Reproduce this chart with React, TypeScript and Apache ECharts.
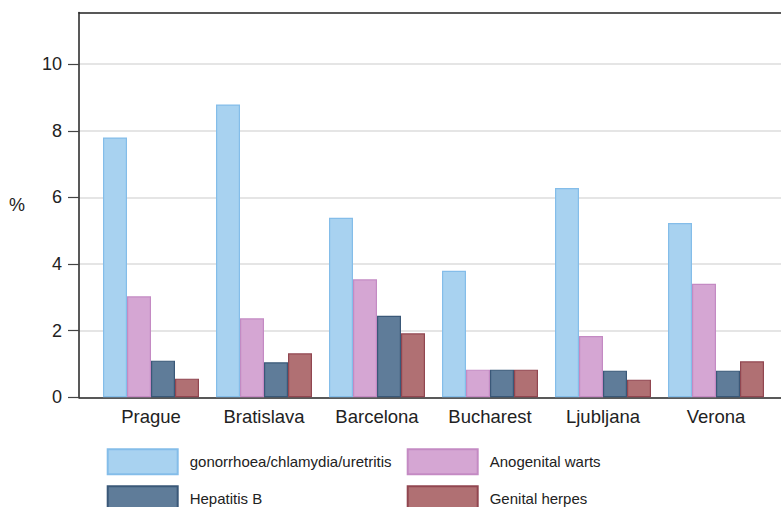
import React, { useEffect, useRef } from "react";
import * as echarts from "echarts";

const categories = ["Prague", "Bratislava", "Barcelona", "Bucharest", "Ljubljana", "Verona"];
const seriesNames = ["gonorrhoea/chlamydia/uretritis", "Anogenital warts", "Hepatitis B", "Genital herpes"];
const gonorrhoea = [7.8, 8.79, 5.39, 3.8, 6.28, 5.23];
const warts = [3.03, 2.37, 3.54, 0.83, 1.84, 3.41];
const hepatitisB = [1.1, 1.05, 2.45, 0.83, 0.8, 0.8];
const herpes = [0.56, 1.32, 1.92, 0.83, 0.53, 1.08];
const yTicks = [0, 2, 4, 6, 8, 10];

const FONT = "'Liberation Sans', Arial, sans-serif";
const fills = ["#a8d2f0", "#d5a6d3", "#5f7c99", "#b07073"];
const borders = ["#84bde9", "#c48ac3", "#3a5878", "#914650"];

export default function App() {
  const ref = useRef<HTMLDivElement>(null);
  useEffect(() => {
    if (!ref.current) return;
    const chart = echarts.init(ref.current, undefined, { renderer: "svg" });
    const values = [gonorrhoea, warts, hepatitisB, herpes];
    const top = 12.5;
    const bottom = 109.7;
    const legendBase = {
      orient: "vertical",
      top: 448.3,
      height: 100,
      padding: 0,
      itemWidth: 70,
      itemHeight: 25,
      itemGap: 10,
      icon: "rect",
      textStyle: { fontFamily: FONT, fontSize: 15, color: "#222", padding: [0, 0, 0, 7] },
    };
    const frameAxis = (position: string) => ({
      gridIndex: 0,
      type: "value",
      position,
      min: 0,
      max: 1,
      axisLine: { show: true, lineStyle: { color: "#2a2a2a", width: 1.5 } },
      axisTick: { show: false },
      axisLabel: { show: false },
      splitLine: { show: false },
    });
    chart.setOption({
      animation: false,
      backgroundColor: "#ffffff",
      textStyle: { fontFamily: FONT },
      grid: [
        { left: 79, right: 0, top, bottom },
        { left: 94.5, right: 8.5, top, bottom },
      ],
      legend: [
        { ...legendBase, data: [seriesNames[0], seriesNames[2]], left: 106.7 },
        { ...legendBase, data: [seriesNames[1], seriesNames[3]], left: 406.7 },
      ],
      xAxis: [
        frameAxis("bottom"),
        frameAxis("top"),
        {
          gridIndex: 1,
          type: "category",
          data: categories,
          axisLine: { show: false },
          axisTick: { show: false },
          axisLabel: { fontFamily: FONT, fontSize: 18.5, color: "#222", margin: 10, interval: 0 },
        },
      ],
      yAxis: [
        {
          gridIndex: 0,
          type: "value",
          min: 0,
          max: 11.55,
          interval: 2,
          name: "%",
          nameLocation: "middle",
          nameRotate: 0,
          nameGap: 54,
          nameTextStyle: { fontFamily: FONT, fontSize: 18, color: "#222" },
          axisLine: { show: true, lineStyle: { color: "#222", width: 1.5 } },
          axisTick: { show: true, length: 11, lineStyle: { color: "#444", width: 1.2 } },
          axisLabel: {
            fontFamily: FONT,
            fontSize: 18,
            color: "#222",
            margin: 17,
            showMaxLabel: false,
            formatter: (v: number) => (yTicks.includes(v) ? String(v) : ""),
          },
          splitLine: { show: true, lineStyle: { color: "#dcdcdc", width: 1.5 } },
        },
        { gridIndex: 1, type: "value", min: 0, max: 11.55, show: false, splitLine: { show: false } },
      ],
      series: seriesNames.map((name, i) => ({
        name,
        type: "bar",
        xAxisIndex: 2,
        yAxisIndex: 1,
        data: values[i],
        barWidth: 24,
        barGap: "0%",
        itemStyle: { color: fills[i], borderColor: borders[i], borderWidth: 1.2 },
      })),
    });
    return () => chart.dispose();
  }, []);
  return <div ref={ref} style={{ width: 781, height: 507, position: "absolute", left: 0, top: 0 }} />;
}
